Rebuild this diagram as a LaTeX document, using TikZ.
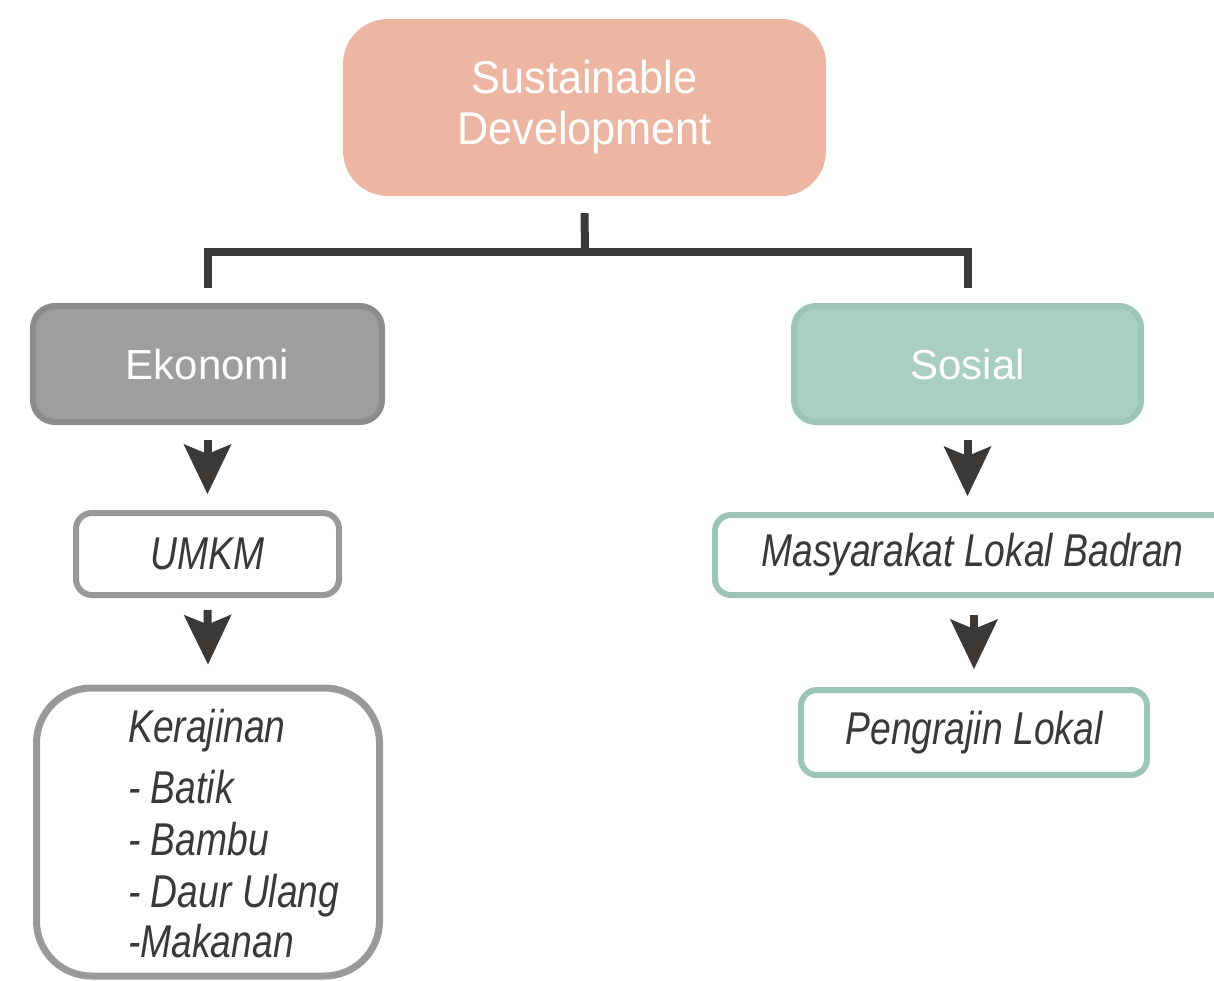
\documentclass[tikz,border=0pt]{standalone}
\usepackage{fontspec}
\setmainfont{Liberation Sans}
\usetikzlibrary{arrows.meta}
\definecolor{dark}{HTML}{3B3838}
\definecolor{salmon}{HTML}{ECB6A3}
\definecolor{grayfill}{HTML}{9E9E9E}
\definecolor{grayline}{HTML}{8C8C8C}
\definecolor{lightgrayline}{HTML}{999999}
\definecolor{tealfill}{HTML}{A9CFC4}
\definecolor{tealline}{HTML}{9CC4B7}
\newcommand{\condit}[1]{\scalebox{0.81}[1]{\itshape #1}}
\tikzset{
  topbox/.style={fill=salmon, rounded corners=45pt, minimum width=483pt, minimum height=177pt, text=white, align=center, font=\fontsize{46}{51}\selectfont, inner sep=0pt},
  midbox/.style={line width=6pt, rounded corners=22pt, minimum height=116pt, text=white, font=\fontsize{42}{50}\selectfont, inner sep=0pt},
  lowbox/.style={line width=6pt, rounded corners=16pt, fill=white, text=dark, font=\fontsize{46}{52}\selectfont, inner sep=0pt},
  conn/.style={line width=8pt, draw=dark, line cap=butt, line join=miter},
  arr/.style={line width=8pt, draw=dark, -{Stealth[length=50pt,width=48pt,inset=10pt,line width=0pt,fill=dark]}},
  listline/.style={anchor=base west, text=dark, font=\fontsize{46}{52}\selectfont, inner sep=0pt}
}
\begin{document}
\begin{tikzpicture}[x=1pt,y=-1pt]
\clip (0,0) rectangle (1214,980);
\fill[white] (0,0) rectangle (1214,980);
% top
\node[topbox] (top) at (584.5,107.5) {\raisebox{-2pt}{\scalebox{0.94}[1]{Sustainable}}\\\raisebox{-2pt}{\scalebox{0.94}[1]{Development}}};
% second level
\node[midbox, draw=grayline, fill=grayfill, minimum width=349pt] (eko) at (207.5,364) {Ekonomi};
\node[midbox, draw=tealline, fill=tealfill, minimum width=347pt] (sos) at (967.5,364) {Sosial};
% connector
\coordinate (j) at (585,252);
\draw[conn] ([yshift=-17pt]top.south) -- (j);
\draw[conn] ([yshift=15pt]eko.north) |- (j) -| ([yshift=15pt]sos.north);
% third level
\node[lowbox, draw=lightgrayline, minimum width=263pt, minimum height=82pt] (umkm) at (207.5,554) {\raisebox{-2pt}{\condit{UMKM}}};
\node[lowbox, draw=tealline, minimum width=515pt, minimum height=80pt] (masy) at (972.5,555) {\raisebox{-2pt}{\condit{Masyarakat Lokal Badran}}};
% fourth level
\node[lowbox, draw=lightgrayline, line width=7pt, rounded corners=55pt, minimum width=343pt, minimum height=288pt] (ker) at (208,832) {};
\node[lowbox, draw=tealline, minimum width=346pt, minimum height=85pt] (peng) at (974,732.5) {\raisebox{-2pt}{\condit{Pengrajin Lokal}}};
\node[listline] (k1) at (128,742) {\condit{Kerajinan}};
\node[listline] (k2) at (128,803) {\condit{- Batik}};
\node[listline] (k3) at (128,855) {\condit{- Bambu}};
\node[listline] (k4) at (128,907) {\condit{- Daur Ulang}};
\node[listline] (k5) at (128,957) {\condit{-Makanan}};
% arrows
\draw[arr, shorten <=15pt] (eko.south) -- ([yshift=16pt]umkm.north);
\draw[arr, shorten <=12pt] (umkm.south) -- ([yshift=20pt]ker.north);
\draw[arr, shorten <=15pt] (sos.south) -- ([yshift=16pt]masy.north -| sos.south);
\draw[arr, shorten <=17pt] (masy.south -| peng.north) -- ([yshift=18pt]peng.north);
\end{tikzpicture}
\end{document}
